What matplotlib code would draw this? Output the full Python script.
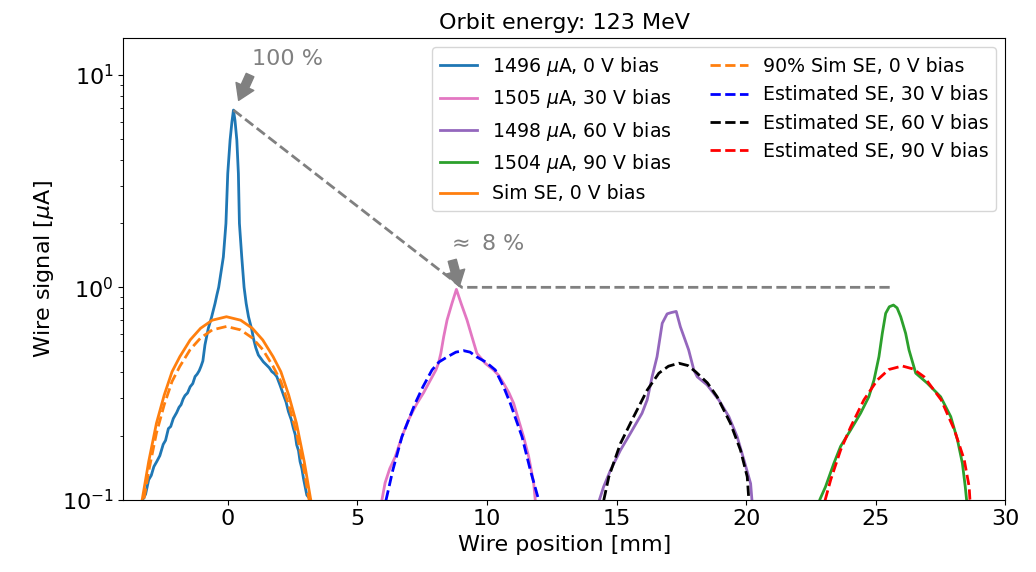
import numpy as np
import matplotlib
matplotlib.use('Agg')
import matplotlib.pyplot as plt

# measured wire signals [uA] vs wire position [mm]
x_0v = [-3.45, -3.28, -3.17, -3.05, -2.95, -2.85, -2.74, -2.62, -2.49, -2.40,
        -2.29, -2.20, -2.10, -1.97, -1.88, -1.80, -1.72, -1.65, -1.55, -1.45,
        -1.35, -1.26, -1.18, -1.10, -1.03, -0.96, -0.88, -0.75, -0.62, -0.49,
        -0.42, -0.35, -0.25, -0.17, -0.07, 0.00, 0.09, 0.16, 0.22, 0.28,
        0.35, 0.41, 0.45, 0.54, 0.63, 0.71, 0.80, 0.93, 0.99, 1.08,
        1.18, 1.28, 1.37, 1.50, 1.60, 1.70, 1.80, 1.89, 2.02, 2.15,
        2.25, 2.34, 2.45, 2.53, 2.60, 2.66, 2.73, 2.79, 2.86, 2.92,
        3.05, 3.19, 3.35]
y_0v = [0.085, 0.100, 0.106, 0.124, 0.130, 0.143, 0.151, 0.161, 0.182, 0.190,
        0.216, 0.221, 0.241, 0.257, 0.272, 0.280, 0.298, 0.309, 0.318, 0.340,
        0.352, 0.380, 0.390, 0.405, 0.425, 0.450, 0.535, 0.641, 0.727, 0.840,
        0.920, 1.00, 1.20, 1.39, 2.00, 3.44, 4.94, 6.00, 6.84, 6.10,
        4.94, 3.44, 2.00, 1.39, 1.00, 0.840, 0.727, 0.630, 0.575, 0.520,
        0.480, 0.462, 0.446, 0.430, 0.418, 0.401, 0.392, 0.380, 0.345, 0.311,
        0.288, 0.260, 0.238, 0.217, 0.203, 0.181, 0.170, 0.151, 0.140, 0.126,
        0.105, 0.100, 0.085]

x_30v = [5.80, 5.95, 6.07, 6.25, 6.46, 6.72, 6.97, 7.15, 7.30, 7.55,
         7.75, 8.03, 8.13, 8.22, 8.33, 8.46, 8.65, 8.82, 9.00, 9.23,
         9.42, 9.61, 9.93, 10.25, 10.45, 10.64, 10.85, 11.03, 11.22, 11.41,
         11.61, 11.80, 11.86, 11.95]
y_30v = [0.085, 0.100, 0.120, 0.140, 0.159, 0.198, 0.237, 0.262, 0.284, 0.318,
         0.353, 0.408, 0.439, 0.489, 0.585, 0.701, 0.841, 0.978, 0.841, 0.701,
         0.585, 0.489, 0.439, 0.408, 0.385, 0.353, 0.318, 0.284, 0.237, 0.198,
         0.159, 0.120, 0.100, 0.085]

x_60v = [14.20, 14.34, 14.50, 14.77, 15.15, 15.53, 15.98, 16.18, 16.37, 16.56,
         16.76, 16.95, 17.10, 17.30, 17.46, 17.78, 17.98, 18.11, 18.49, 18.94,
         19.33, 19.65, 19.91, 20.17, 20.22, 20.30]
y_60v = [0.085, 0.100, 0.115, 0.138, 0.171, 0.205, 0.255, 0.295, 0.379, 0.471,
         0.677, 0.750, 0.760, 0.770, 0.652, 0.507, 0.408, 0.379, 0.347, 0.295,
         0.246, 0.198, 0.154, 0.119, 0.100, 0.085]

x_90v = [22.70, 22.84, 23.06, 23.38, 23.64, 24.03, 24.41, 24.73, 24.93, 25.12,
         25.25, 25.38, 25.52, 25.68, 25.82, 25.96, 26.15, 26.28, 26.54, 26.99,
         27.50, 27.89, 28.15, 28.34, 28.45, 28.50, 28.60]
y_90v = [0.085, 0.100, 0.115, 0.148, 0.178, 0.213, 0.255, 0.305, 0.366, 0.471,
         0.607, 0.754, 0.810, 0.825, 0.800, 0.727, 0.607, 0.507, 0.394, 0.353,
         0.305, 0.246, 0.191, 0.148, 0.115, 0.100, 0.085]

# simulated secondary emission, 0 V bias
x_sim = [-3.50, -3.30, -3.05, -2.75, -2.45, -2.15, -1.85, -1.45, -1.05, -0.60,
         -0.05, 0.50, 0.95, 1.35, 1.75, 2.05, 2.35, 2.65, 2.95, 3.20, 3.40]
y_sim = [0.070, 0.100, 0.151, 0.229, 0.311, 0.400, 0.471, 0.565, 0.641, 0.700,
         0.727, 0.700, 0.641, 0.565, 0.471, 0.400, 0.311, 0.229, 0.151, 0.100,
         0.070]
y_sim90 = [0.063, 0.090, 0.136, 0.206, 0.280, 0.360, 0.424, 0.509, 0.577, 0.630,
           0.654, 0.630, 0.577, 0.509, 0.424, 0.360, 0.280, 0.206, 0.136, 0.090,
           0.063]

# estimated secondary emission at 30/60/90 V bias
x_est30 = [5.95, 6.11, 6.37, 6.72, 7.23, 7.53, 7.88, 8.15, 8.48, 8.80,
           9.10, 9.35, 9.59, 9.95, 10.32, 10.64, 10.90, 11.35, 11.67, 11.99,
           12.10]
y_est30 = [0.085, 0.100, 0.138, 0.198, 0.284, 0.340, 0.408, 0.445, 0.471, 0.495,
           0.503, 0.495, 0.471, 0.445, 0.408, 0.340, 0.284, 0.198, 0.138, 0.100,
           0.085]

x_est60 = [14.40, 14.51, 14.70, 15.15, 15.66, 16.18, 16.63, 17.00, 17.40, 17.75,
           18.05, 18.50, 18.88, 19.39, 19.78, 20.04, 20.10, 20.20]
y_est60 = [0.085, 0.100, 0.128, 0.184, 0.246, 0.328, 0.394, 0.425, 0.439, 0.428,
           0.400, 0.355, 0.305, 0.229, 0.171, 0.128, 0.100, 0.085]

x_est90 = [22.90, 23.05, 23.26, 23.64, 24.03, 24.54, 25.06, 25.50, 26.02, 26.45,
           26.86, 27.52, 28.03, 28.41, 28.60, 28.63, 28.75]
y_est90 = [0.085, 0.100, 0.124, 0.171, 0.220, 0.295, 0.366, 0.410, 0.426, 0.412,
           0.379, 0.295, 0.213, 0.154, 0.115, 0.100, 0.085]

# guide line from 0 V peak to 30 V peak and onwards
guide_x = [0.22, 9.03, 25.6]
guide_y = [6.84, 1.0, 1.0]

fig = plt.figure(figsize=(10.36, 5.72), dpi=100)
ax = fig.add_axes([0.119, 0.1266, 0.8515, 0.8075])

lw = 2
ax.plot(x_0v, y_0v, color='tab:blue', lw=lw, label=r'1496 $\mu$A, 0 V bias')
ax.plot(x_30v, y_30v, color='tab:pink', lw=lw, label=r'1505 $\mu$A, 30 V bias')
ax.plot(x_60v, y_60v, color='tab:purple', lw=lw, label=r'1498 $\mu$A, 60 V bias')
ax.plot(x_90v, y_90v, color='tab:green', lw=lw, label=r'1504 $\mu$A, 90 V bias')
ax.plot(x_sim, y_sim, color='tab:orange', lw=lw, label='Sim SE, 0 V bias')
ax.plot(x_sim, y_sim90, '--', color='tab:orange', lw=lw,
        label='90% Sim SE, 0 V bias')
ax.plot(x_est30, y_est30, '--', color='blue', lw=lw,
        label='Estimated SE, 30 V bias')
ax.plot(x_est60, y_est60, '--', color='black', lw=lw,
        label='Estimated SE, 60 V bias')
ax.plot(x_est90, y_est90, '--', color='red', lw=lw,
        label='Estimated SE, 90 V bias')

ax.plot(guide_x, guide_y, '--', color='gray', lw=lw)

arrow = dict(color='gray', width=6, headwidth=14, headlength=11, shrink=0.0)
ax.annotate('', xy=(0.42, 7.6), xytext=(0.86, 10.0), arrowprops=arrow)
ax.text(0.93, 11.9, '100 %', color='gray', fontsize=16, va='center')
ax.annotate('', xy=(8.93, 1.01), xytext=(8.66, 1.34), arrowprops=arrow)
ax.text(8.47, 1.6, r'$\approx$ 8 %', color='gray', fontsize=16, va='center')

ax.set_yscale('log')
ax.set_xlim(-4.03, 30)
ax.set_ylim(0.1, 15)
ax.set_xlabel('Wire position [mm]', fontsize=16)
ax.set_ylabel(r'Wire signal [$\mu$A]', fontsize=16)
ax.set_title('Orbit energy: 123 MeV', fontsize=16)
ax.tick_params(labelsize=16)
ax.legend(ncol=2, loc='upper right', fontsize=13.6)

fig.savefig('out.png', dpi=100)
